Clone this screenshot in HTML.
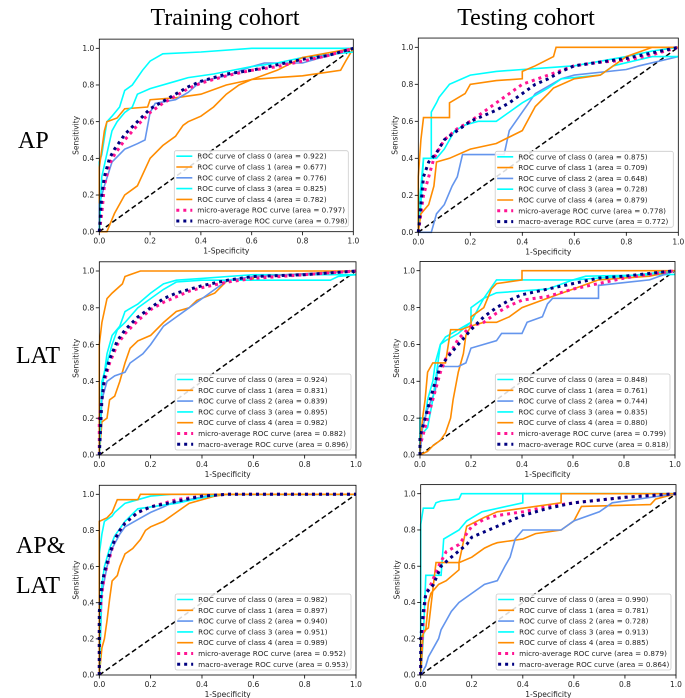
<!DOCTYPE html>
<html><head><meta charset="utf-8"><style>
html,body{margin:0;padding:0;background:#fff;}
svg{display:block;}
</style></head><body>
<svg id="fig" width="685" height="698" viewBox="0 0 685 698" xmlns="http://www.w3.org/2000/svg">
<text x="225" y="25" text-anchor="middle" font-family="Liberation Serif, serif" font-size="24">Training cohort</text>
<text x="526" y="25" text-anchor="middle" font-family="Liberation Serif, serif" font-size="24">Testing cohort</text>
<text x="18" y="148" font-family="Liberation Serif, serif" font-size="24">AP</text>
<text x="16" y="363" font-family="Liberation Serif, serif" font-size="24">LAT</text>
<text x="16" y="553" font-family="Liberation Serif, serif" font-size="24">AP&amp;</text>
<text x="16" y="593" font-family="Liberation Serif, serif" font-size="24">LAT</text>
</svg>
<script>
const ticks = [0, 0.2, 0.4, 0.6, 0.8, 1.0];
const tickLabels = ["0.0", "0.2", "0.4", "0.6", "0.8", "1.0"];
const seriesNames = ["ROC curve of class 0", "ROC curve of class 1", "ROC curve of class 2", "ROC curve of class 3", "ROC curve of class 4", "micro-average ROC curve", "macro-average ROC curve"];
const colors = ["#00ffff", "#ff8c00", "#6495ed", "#00ffff", "#ff8c00", "#ff1493", "#000080"];

const areasTrainAP = ["0.922","0.677","0.776","0.825","0.782","0.797","0.798"];
const areasTestAP = ["0.875","0.709","0.648","0.728","0.879","0.778","0.772"];
const areasTrainLAT = ["0.924","0.831","0.839","0.895","0.982","0.882","0.896"];
const areasTestLAT = ["0.848","0.761","0.744","0.835","0.880","0.799","0.818"];
const areasTrainBoth = ["0.982","0.897","0.940","0.951","0.989","0.952","0.953"];
const areasTestBoth = ["0.990","0.781","0.728","0.913","0.885","0.879","0.864"];

const trainAP = [
 [[0,0],[0,.38],[.01,.42],[.03,.6],[.05,.63],[.08,.68],[.1,.77],[.13,.8],[.17,.88],[.2,.93],[.25,.97],[.4,.98],[.6,1],[1,1]],
 [[0,0],[0,.35],[.02,.55],[.03,.6],[.07,.62],[.1,.67],[.19,.68],[.2,.72],[.3,.73],[.4,.75],[.5,.8],[.6,.83],[.7,.84],[.8,.85],[.95,.88],[.97,.93],[1,1]],
 [[0,0],[0,.15],[.02,.25],[.05,.38],[.1,.45],[.15,.48],[.18,.5],[.2,.65],[.22,.7],[.3,.72],[.35,.76],[.4,.82],[.5,.85],[.6,.9],[.65,.92],[.8,.92],[1,1]],
 [[0,0],[.01,.3],[.05,.55],[.07,.6],[.1,.65],[.13,.68],[.15,.75],[.2,.78],[.3,.82],[.35,.84],[.45,.86],[.6,.9],[.7,.92],[.8,.95],[1,.98]],
 [[0,0],[.03,0],[.06,.1],[.1,.2],[.15,.25],[.2,.4],[.25,.47],[.3,.52],[.33,.58],[.35,.6],[.4,.63],[.45,.68],[.5,.75],[.55,.8],[.6,.83],[.7,.88],[.8,.95],[1,1]],
 [[0,0],[.01,.1],[.02,.25],[.04,.37],[.06,.42],[.1,.5],[.15,.58],[.2,.65],[.25,.7],[.3,.74],[.35,.78],[.4,.81],[.5,.85],[.6,.88],[.7,.9],[.8,.93],[.9,.96],[1,1]],
 [[0,0],[.01,.2],[.02,.3],[.04,.4],[.06,.45],[.1,.53],[.15,.6],[.2,.67],[.25,.71],[.3,.75],[.35,.79],[.4,.82],[.5,.86],[.6,.88],[.7,.91],[.8,.94],[.9,.96],[1,1]]
];
const testAP = [
 [[0,0],[0,.1],[.02,.4],[.05,.4],[.05,.65],[.07,.7],[.08,.73],[.12,.8],[.2,.85],[.3,.87],[.4,.88],[.5,.89],[.6,.9],[.8,.95],[.9,.98],[1,1]],
 [[0,0],[0,.3],[.01,.5],[.02,.62],[.12,.62],[.12,.7],[.18,.75],[.2,.8],[.3,.82],[.4,.83],[.4,.87],[.45,.9],[.52,.95],[.53,1],[1,1]],
 [[0,0],[.05,0],[.07,.1],[.1,.15],[.13,.25],[.15,.3],[.17,.42],[.33,.42],[.35,.55],[.4,.65],[.45,.75],[.55,.83],[.6,.85],[.8,.88],[.85,.9],[1,.95]],
 [[0,0],[.01,.15],[.02,.4],[.07,.4],[.1,.45],[.14,.55],[.18,.58],[.23,.6],[.3,.6],[.35,.65],[.4,.7],[.5,.78],[.55,.83],[.7,.85],[.75,.9],[.9,.95],[1,.95]],
 [[0,0],[.01,.1],[.04,.15],[.06,.25],[.07,.38],[.12,.4],[.2,.45],[.3,.48],[.4,.55],[.45,.68],[.5,.75],[.52,.78],[.6,.83],[.7,.85],[.8,.95],[.9,1],[1,1]],
 [[0,0],[.01,.1],[.02,.2],[.04,.3],[.06,.4],[.1,.5],[.15,.56],[.2,.6],[.25,.65],[.3,.7],[.35,.75],[.4,.8],[.5,.85],[.6,.9],[.7,.92],[.8,.93],[.9,.96],[1,1]],
 [[0,0],[.01,.15],[.02,.3],[.04,.38],[.07,.43],[.1,.5],[.15,.55],[.2,.6],[.25,.63],[.3,.66],[.35,.7],[.4,.75],[.45,.8],[.5,.83],[.55,.87],[.6,.9],[.7,.92],[.8,.94],[.9,.97],[1,1]]
];
const trainLAT = [
 [[0,0],[.01,.35],[.03,.55],[.05,.65],[.08,.7],[.1,.78],[.15,.82],[.2,.88],[.25,.93],[.3,.95],[.4,.96],[.5,.97],[.6,.98],[1,.98]],
 [[0,0],[.01,.18],[.03,.2],[.04,.3],[.06,.32],[.08,.4],[.1,.5],[.12,.58],[.15,.62],[.2,.65],[.25,.72],[.3,.78],[.35,.8],[.38,.84],[.45,.88],[.5,.95],[.6,.95],[.6,.97],[1,1]],
 [[0,0],[.01,.3],[.03,.4],[.06,.43],[.1,.45],[.12,.5],[.17,.55],[.2,.6],[.25,.7],[.3,.75],[.35,.8],[.4,.85],[.45,.9],[.5,.95],[.6,.97],[1,1]],
 [[0,0],[.01,.4],[.03,.5],[.05,.6],[.07,.68],[.1,.72],[.15,.8],[.2,.85],[.25,.9],[.3,.94],[.4,.95],[.6,.95],[.9,.95],[.93,.97],[1,.98]],
 [[0,0],[0,.6],[.01,.72],[.03,.85],[.05,.88],[.09,.93],[.1,.97],[.16,1],[1,1]],
 [[0,0],[0,.2],[.01,.3],[.02,.4],[.04,.5],[.07,.6],[.1,.66],[.15,.73],[.2,.79],[.25,.83],[.3,.86],[.35,.89],[.4,.91],[.5,.94],[.6,.96],[.8,.98],[1,1]],
 [[0,0],[.01,.3],[.02,.42],[.04,.52],[.07,.62],[.1,.68],[.15,.75],[.2,.8],[.25,.85],[.3,.88],[.35,.9],[.4,.92],[.5,.95],[.6,.97],[.8,.98],[1,1]]
];
const testLAT = [
 [[0,0],[0,.2],[.02,.2],[.03,.3],[.05,.4],[.06,.5],[.08,.6],[.1,.64],[.15,.68],[.2,.72],[.2,.8],[.25,.85],[.3,.95],[.6,.95],[.65,.97],[1,.98]],
 [[0,0],[.03,.02],[.05,.05],[.08,.08],[.1,.12],[.12,.2],[.13,.3],[.15,.45],[.17,.55],[.18,.65],[.2,.7],[.25,.72],[.3,.72],[.35,.75],[.4,.8],[.5,.85],[.6,.9],[.7,.95],[.9,.97],[1,1]],
 [[0,0],[.01,.15],[.03,.25],[.06,.35],[.07,.48],[.15,.48],[.18,.5],[.2,.58],[.3,.62],[.32,.66],[.4,.66],[.42,.72],[.48,.75],[.5,.82],[.52,.85],[.7,.85],[.7,.92],[.9,.95],[1,1]],
 [[0,0],[0,.1],[.03,.15],[.05,.3],[.06,.4],[.07,.5],[.08,.6],[.1,.62],[.15,.66],[.2,.72],[.23,.8],[.25,.85],[.3,.88],[.5,.9],[.6,.95],[.8,.97],[1,1]],
 [[0,0],[0,.05],[.01,.2],[.02,.3],[.03,.45],[.05,.5],[.1,.5],[.12,.68],[.16,.68],[.2,.7],[.2,.75],[.25,.8],[.28,.9],[.3,.93],[.4,.95],[.4,1],[1,1]],
 [[0,0],[0,.05],[.02,.15],[.04,.25],[.06,.35],[.08,.45],[.1,.52],[.13,.58],[.15,.63],[.2,.7],[.25,.72],[.3,.77],[.35,.81],[.4,.84],[.5,.86],[.6,.9],[.7,.93],[.8,.96],[1,1]],
 [[0,0],[0,.1],[.02,.2],[.04,.3],[.06,.4],[.08,.48],[.12,.55],[.15,.6],[.2,.68],[.25,.75],[.3,.8],[.35,.84],[.4,.87],[.5,.9],[.6,.93],[.7,.96],[.8,.97],[1,1]]
];
const trainBoth = [
 [[0,0],[0,.67],[.01,.78],[.02,.85],[.05,.88],[.06,.9],[.1,.95],[.15,.97],[.2,.99],[.28,1],[1,1]],
 [[0,0],[.01,.15],[.02,.2],[.03,.3],[.04,.42],[.05,.52],[.07,.55],[.08,.6],[.1,.67],[.13,.7],[.16,.75],[.18,.8],[.2,.82],[.25,.85],[.3,.9],[.35,.95],[.4,.97],[.45,.99],[.5,1],[1,1]],
 [[0,0],[.01,.45],[.03,.6],[.05,.7],[.08,.78],[.1,.82],[.15,.86],[.2,.9],[.25,.93],[.28,.95],[.35,.97],[.45,1],[1,1]],
 [[0,0],[.01,.5],[.02,.6],[.04,.7],[.06,.77],[.1,.85],[.15,.92],[.2,.93],[.3,.95],[.4,.98],[.47,1],[1,1]],
 [[0,0],[0,.85],[.03,.87],[.05,.9],[.07,.97],[.15,.97],[.16,1],[1,1]],
 [[0,0],[0,.3],[.01,.45],[.02,.55],[.04,.65],[.06,.75],[.08,.8],[.1,.84],[.15,.9],[.2,.93],[.3,.97],[.4,.99],[.5,1],[1,1]],
 [[0,0],[0,.35],[.01,.5],[.02,.57],[.04,.67],[.06,.75],[.08,.8],[.1,.84],[.15,.9],[.2,.93],[.3,.96],[.4,.99],[.5,1],[1,1]]
];
const testBoth = [
 [[0,0],[0,.83],[.01,.92],[.05,.92],[.06,.95],[.08,.96],[.15,.97],[.16,1],[1,1]],
 [[0,0],[0,.2],[.02,.25],[.03,.4],[.04,.45],[.07,.5],[.1,.52],[.15,.58],[.15,.62],[.2,.65],[.25,.7],[.28,.72],[.3,.73],[.4,.75],[.45,.78],[.55,.8],[.6,.85],[.63,.93],[.9,.94],[.92,.97],[1,1]],
 [[0,0],[.02,.05],[.03,.1],[.05,.15],[.07,.2],[.08,.25],[.1,.3],[.12,.35],[.15,.4],[.2,.45],[.25,.5],[.3,.52],[.33,.6],[.35,.65],[.37,.75],[.4,.8],[.55,.8],[.6,.85],[.7,.9],[.75,.95],[1,1]],
 [[0,0],[.01,.2],[.02,.55],[.08,.55],[.09,.75],[.15,.8],[.18,.85],[.24,.9],[.4,.95],[.4,1],[1,1]],
 [[0,0],[.01,.24],[.03,.26],[.06,.62],[.15,.62],[.18,.82],[.25,.87],[.3,.9],[.55,.95],[.55,1],[1,1]],
 [[0,0],[0,.1],[.01,.3],[.02,.45],[.04,.5],[.07,.6],[.1,.68],[.15,.72],[.18,.78],[.2,.82],[.25,.86],[.3,.88],[.4,.9],[.5,.93],[.6,.95],[.8,.98],[1,1]],
 [[0,0],[0,.2],[.01,.35],[.02,.45],[.05,.5],[.08,.6],[.12,.65],[.18,.72],[.2,.76],[.3,.82],[.4,.88],[.5,.92],[.6,.95],[.8,.98],[1,1]]
];

const NS = "http://www.w3.org/2000/svg";
const fig = document.getElementById('fig');
function mk(tag, attrs, parent) {
  const e = document.createElementNS(NS, tag);
  for (const k in attrs) e.setAttribute(k, attrs[k]);
  (parent || fig).appendChild(e);
  return e;
}
function panel(name, x0, x1, y0, y1, curves, areas) {
  const g = mk('g', {});
  
  
  const sx = v => x0 + v * (x1 - x0);
  const sy = v => y0 - v * (y0 - y1);
  const top = sy(1.05);
  mk('rect', {x: x0, y: top, width: x1 - x0, height: y0 - top, fill: '#fff', stroke: 'none'}, g);
  const d = mk('line', {x1: sx(0), y1: sy(0), x2: sx(1), y2: sy(1), stroke: '#000', 'stroke-width': 1.5, 'stroke-dasharray': '5,3'}, g);
  
  
  curves.forEach((pts, i) => {
    const p = mk('polyline', {points: pts.map(q => sx(q[0]).toFixed(1) + ',' + sy(q[1]).toFixed(1)).join(' '), fill: 'none', stroke: colors[i], 'stroke-width': i >= 5 ? 3 : 1.6, 'stroke-dasharray': i >= 5 ? '3,4' : 'none'}, g);
    
    
  });
  mk('rect', {x: x0, y: top, width: x1 - x0, height: y0 - top, fill: 'none', stroke: '#000', 'stroke-width': 0.8}, g);
  ticks.forEach((t, i) => {
    mk('line', {x1: sx(t), y1: y0, x2: sx(t), y2: y0 + 3.5, stroke: '#000', 'stroke-width': 0.8}, g);
    const tx = mk('text', {x: sx(t), y: y0 + 12, 'text-anchor': 'middle', 'font-family': 'DejaVu Sans, sans-serif', 'font-size': 7.5, fill: '#222'}, g);
    tx.textContent = tickLabels[i];
    
    
    mk('line', {x1: x0, y1: sy(t), x2: x0 - 3.5, y2: sy(t), stroke: '#000', 'stroke-width': 0.8}, g);
    const ty = mk('text', {x: x0 - 5, y: sy(t) + 2.7, 'text-anchor': 'end', 'font-family': 'DejaVu Sans, sans-serif', 'font-size': 7.5, fill: '#222'}, g);
    ty.textContent = tickLabels[i];
    
    
  });
  const yl = mk('text', {x: 0, y: 0, transform: 'translate(' + (x0 - 21) + ',' + ((y0 + top) / 2) + ') rotate(-90)', 'text-anchor': 'middle', 'font-family': 'DejaVu Sans, sans-serif', 'font-size': 7.5, fill: '#222'}, g);
  yl.textContent = 'Sensitivity';
  
  
  const xl = mk('text', {x: (x0 + x1) / 2, y: y0 + 22, 'text-anchor': 'middle', 'font-family': 'DejaVu Sans, sans-serif', 'font-size': 7.5, fill: '#222'}, g);
  xl.textContent = '1-Specificity';
  
  
  const lw = 0.685 * (x1 - x0), lh = 76;
  const lx = x1 - 5 - lw, ly = y0 - 5 - lh;
  const lg = mk('g', {}, g);
  
  
  mk('rect', {x: lx, y: ly, width: lw, height: lh, rx: 2, fill: '#fff', 'fill-opacity': 0.85, stroke: '#ccc', 'stroke-width': 0.8}, lg);
  seriesNames.forEach((n, i) => {
    const cy = ly + 5.5 + i * 10.8;
    mk('line', {x1: lx + 2, y1: cy, x2: lx + 18, y2: cy, stroke: colors[i], 'stroke-width': i >= 5 ? 3 : 1.6, 'stroke-dasharray': i >= 5 ? '3,4' : 'none'}, lg);
    const t = mk('text', {x: lx + 23, y: cy + 2.5, 'font-family': 'DejaVu Sans, sans-serif', 'font-size': 7.2, fill: '#222'}, lg);
    t.textContent = n + ' (area = ' + areas[i] + ')';
    
    
  });
}
panel('train-ap', 99.3, 353.3, 231.7, 48.3, trainAP, areasTrainAP);
panel('test-ap', 418.3, 678.3, 232.3, 47.3, testAP, areasTestAP);
panel('train-lat', 99.3, 356, 455, 271, trainLAT, areasTrainLAT);
panel('test-lat', 420, 675, 455, 270.7, testLAT, areasTestLAT);
panel('train-aplat', 99.3, 356, 675, 494.3, trainBoth, areasTrainBoth);
panel('test-aplat', 420.7, 676, 675, 493.7, testBoth, areasTestBoth);
</script>
</body></html>
